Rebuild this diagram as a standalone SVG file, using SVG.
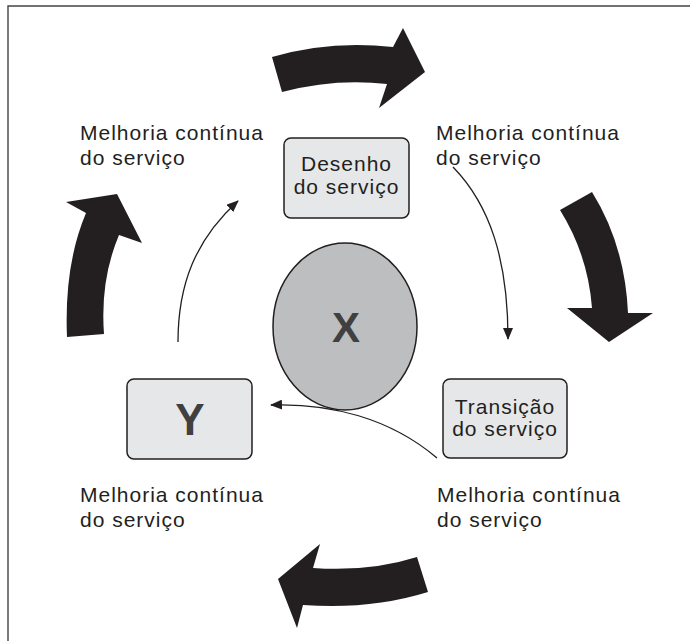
<svg xmlns="http://www.w3.org/2000/svg" width="699" height="641" viewBox="0 0 699 641">
<style>
.lbl{font-family:"Liberation Sans",Arial,sans-serif;font-size:21px;letter-spacing:1px;fill:#231f20}
.box{fill:#e6e7e8;stroke:#231f20;stroke-width:1.5}
.big{fill:#231f20}
.thin{fill:none;stroke:#231f20;stroke-width:1.3}
.key{font-family:"Liberation Sans",Arial,sans-serif;font-weight:bold;fill:#404041;text-anchor:middle}
</style>
<defs>
<marker id="ah" viewBox="0 0 12 10" refX="11" refY="5" markerWidth="12" markerHeight="10" markerUnits="userSpaceOnUse" orient="auto">
<path d="M0,0 L12,5 L0,10 Z" fill="#231f20"/>
</marker>
</defs>
<rect width="699" height="641" fill="#fff"/>
<path d="M8,641 V6 H690" fill="none" stroke="#444" stroke-width="1.4"/>

<g id="cycle-arrows">
<path class="big" d="M272,57 Q330,40 393,47 L403,28 L425,72 L379,108 L387,84 Q335,78 282,92 Z"/>
<path class="big" d="M560,210 L592,192 Q625,245 628,313 L653,313 L609,342 L567,308 L592,308 Q588,255 560,210 Z"/>
<path class="big" d="M278,579 L320,544 L313,568 Q370,572 417,557 L428,592 Q370,610 303,605 L297,628 Z"/>
<path class="big" d="M67,337 Q64,265 86,213 L66,202 L117,194 L142,243 L119,235 Q100,280 104,334 Z"/>
</g>

<g id="connectors">
<path class="thin" marker-end="url(#ah)" d="M178,342 C178,285 195,240 238,201"/>
<path class="thin" marker-end="url(#ah)" d="M453,167 C490,205 508,260 508,339"/>
<path class="thin" marker-end="url(#ah)" d="M437,458 C390,418 330,403 271,405"/>
</g>

<g id="label-tl"><text class="lbl" x="80" y="140">Melhoria contínua</text><text class="lbl" x="80" y="165">do serviço</text></g>
<g id="label-tr"><text class="lbl" x="436" y="140">Melhoria contínua</text><text class="lbl" x="436" y="165">do serviço</text></g>
<g id="label-bl"><text class="lbl" x="80" y="502">Melhoria contínua</text><text class="lbl" x="80" y="527">do serviço</text></g>
<g id="label-br"><text class="lbl" x="437" y="502">Melhoria contínua</text><text class="lbl" x="437" y="527">do serviço</text></g>

<g id="node-desenho">
<rect class="box" x="284" y="138" width="125" height="80" rx="7"/>
<text class="lbl" x="346.5" y="171" text-anchor="middle">Desenho</text>
<text class="lbl" x="346.5" y="194" text-anchor="middle">do serviço</text>
</g>
<g id="node-transicao">
<rect class="box" x="443" y="379" width="124" height="79" rx="7"/>
<text class="lbl" x="505" y="414" text-anchor="middle">Transição</text>
<text class="lbl" x="505" y="436" text-anchor="middle">do serviço</text>
</g>
<g id="node-y">
<rect class="box" x="127" y="379" width="125" height="80" rx="7"/>
<text class="key" x="190" y="435" font-size="44">Y</text>
</g>
<g id="node-x">
<ellipse cx="345" cy="326.5" rx="72" ry="83.5" fill="#bcbec0" stroke="#231f20" stroke-width="1.5"/>
<text class="key" x="346" y="342" font-size="42">X</text>
</g>
</svg>
